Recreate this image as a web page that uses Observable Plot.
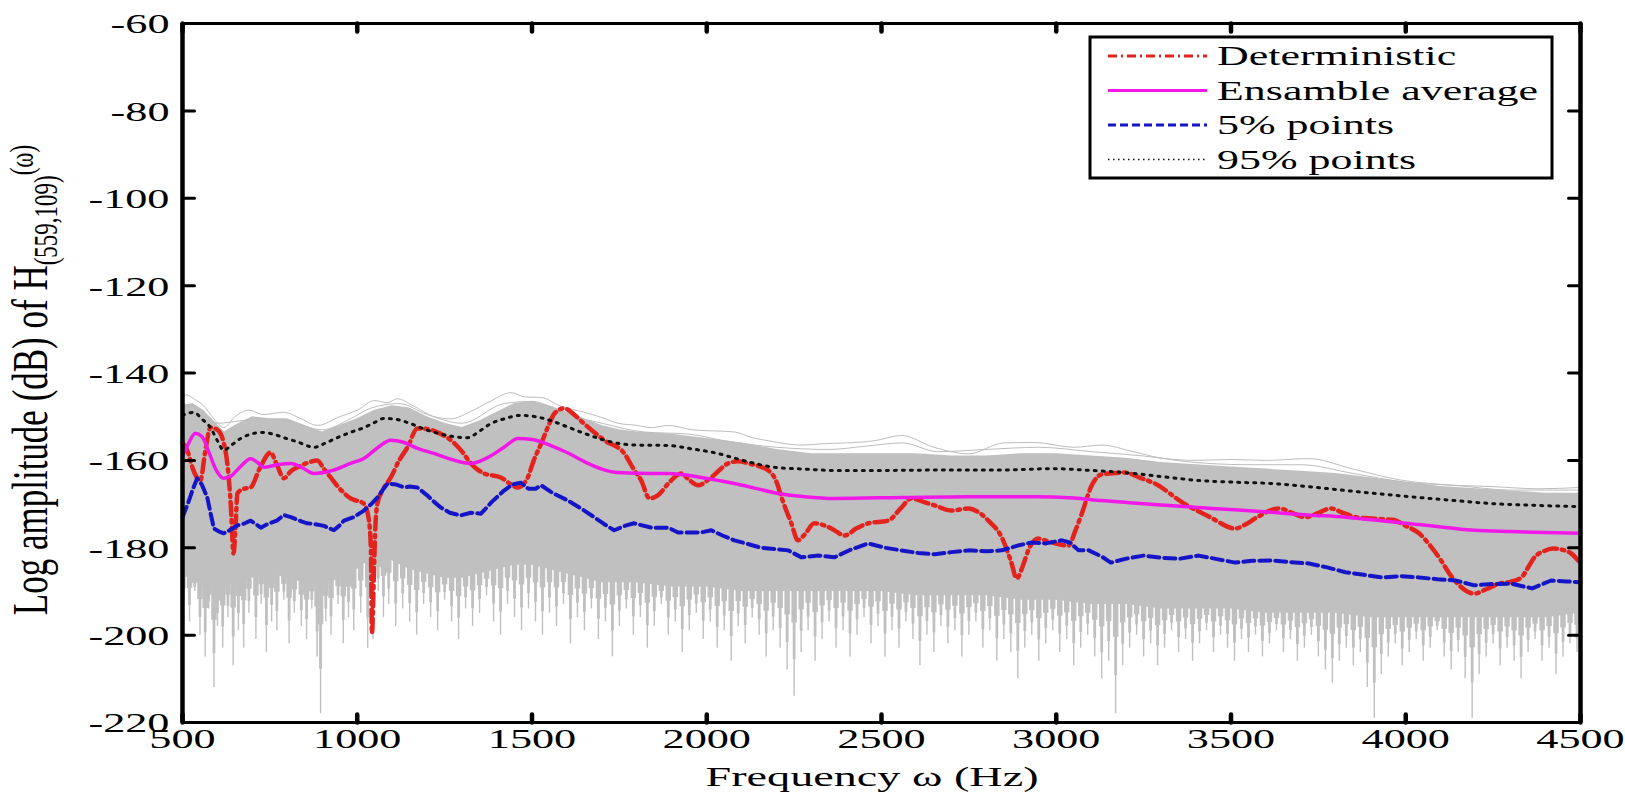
<!DOCTYPE html>
<html><head><meta charset="utf-8">
<script src="https://cdn.jsdelivr.net/npm/d3@7"></script>
<script src="https://cdn.jsdelivr.net/npm/@observablehq/plot@0.6"></script>
<style>body{margin:0;background:#fff}svg{display:block}</style>
</head><body><div id="chart"></div>
<script>
const xDomain = [500, 4500];
const yDomain = [-220, -60];
const xTicks = [500, 1000, 1500, 2000, 2500, 3000, 3500, 4000, 4500];
const yTicks = [-220, -200, -180, -160, -140, -120, -100, -80, -60];
const legendLabels = ["Deterministic", "Ensamble average", "5% points", "95% points"];

// Grey ensemble: dense envelope
const bandF = [500,530,560,590,620,650,700,750,800,850,900,950,1000,1050,1100,1150,1200,1250,1300,1350,1400,1450,1500,1550,1600,1650,1700,1750,1800,1900,2000,2100,2200,2300,2400,2500,2600,2700,2800,2900,3000,3100,3200,3300,3400,3500,3600,3700,3800,3900,4000,4100,4200,4300,4400,4500];
const bandTop = [-147.5,-147,-148.5,-151,-153.5,-152,-150,-150.5,-150.5,-152,-153.5,-152,-150.5,-148.5,-147.5,-148,-150,-151.5,-152.5,-151,-149,-147,-146.5,-147.5,-149,-150.5,-152,-153,-153.5,-154,-155,-156,-157.5,-158.5,-158.5,-158.5,-158.5,-159,-159,-158.5,-158.5,-159,-159.5,-160.5,-161,-161.5,-162,-162.5,-163,-164,-165,-166,-166.5,-167,-167.5,-167.5];
const bandBottom = [-184,-187,-189,-190,-189,-188,-187,-186,-187,-188,-189,-187,-185,-182,-183,-185,-186,-187,-187,-186,-185,-184,-184,-185,-186,-187,-188,-188,-188,-189,-189,-190,-190,-190,-190,-190,-191,-191,-191,-192,-192,-193,-193,-194,-194,-194,-195,-195,-195,-196,-196,-196,-196,-196,-196,-195];
// Individual realisations peeking above the dense band
const bandMax = [[500,-146],[510,-145],[535,-146],[560,-147.5],[590,-150.5],[618,-152.5],[650,-150],[690,-148.5],[730,-149.5],[790,-149],[840,-150.5],[886,-152],[950,-150],[1000,-148.5],[1050,-146.3],[1085,-146.8],[1115,-145.9],[1160,-147.5],[1220,-150],[1268,-150.5],[1320,-149],[1380,-146.5],[1440,-144.5],[1480,-145.5],[1526,-145.6],[1580,-147.5],[1650,-149],[1700,-150.2],[1746,-151.5],[1800,-152],[1841,-152.5],[1890,-152],[1960,-153],[2079,-153.5],[2130,-154.8],[2176,-155.5],[2271,-156.5],[2330,-156.2],[2400,-156],[2480,-155.5],[2557,-154.3],[2650,-157],[2749,-158.5],[2850,-156],[2938,-155.9],[3050,-157],[3130,-156.5],[3220,-158],[3303,-159.5],[3400,-160],[3500,-159.8],[3600,-160],[3723,-159.6],[3850,-162],[3985,-164.5],[4100,-165.5],[4248,-166],[4380,-166.5],[4500,-166.2]];
const bandMax2 = [[500,-147],[540,-148],[600,-151.5],[660,-151],[720,-150.5],[800,-151],[900,-153],[980,-150.5],[1040,-148],[1120,-147],[1200,-149.5],[1300,-151.5],[1420,-147],[1500,-146.5],[1600,-149.5],[1700,-151.5],[1820,-153.5],[1950,-154],[2050,-155.5],[2200,-157],[2350,-157.5],[2450,-156.8],[2560,-156],[2660,-158],[2800,-157.5],[2950,-157],[3100,-158],[3250,-159],[3400,-160.5],[3560,-161],[3700,-161],[3850,-163],[4000,-165],[4150,-165.8],[4300,-166.8],[4500,-166.8]];
// Deep dips of individual realisations [frequency, lowest dB]
const spikes = [[505,-192],[520,-197],[535,-190],[550,-200],[565,-205],[575,-194],[590,-212],[600,-198],[615,-203],[630,-196],[645,-207],[660,-199],[675,-203],[690,-195],
[710,-201],[725,-193],[740,-204],[755,-197],[770,-199],[790,-192],[805,-202],[820,-195],[840,-198],[855,-201],[870,-194],[885,-205],[895,-218],[910,-197],[925,-200],[945,-193],[960,-202],[975,-196],[990,-199],
[1010,-195],[1030,-203],[1045,-201],[1060,-190],[1075,-196],[1090,-193],
[1110,-198],[1130,-194],[1150,-197],[1170,-200],[1190,-193],[1210,-196],[1230,-199],[1250,-192],[1270,-197],[1290,-201],[1310,-194],[1330,-198],[1350,-195],[1370,-191],[1390,-197],[1410,-200],[1430,-193],[1450,-196],[1470,-199],[1490,-194],
[1510,-197],[1530,-200],[1550,-195],[1570,-198],[1590,-193],[1610,-202],[1630,-196],[1650,-199],[1670,-194],[1690,-201],[1710,-197],[1730,-205],[1750,-198],[1770,-194],[1790,-200],[1810,-196],[1830,-203],[1850,-198],[1870,-193],[1890,-200],[1910,-197],[1930,-204],[1950,-199],[1970,-195],[1990,-201],
[2010,-197],[2030,-203],[2050,-199],[2070,-206],[2090,-198],[2110,-202],[2130,-196],[2150,-200],[2170,-205],[2190,-199],[2210,-203],[2230,-208],[2250,-214],[2270,-204],[2290,-199],[2310,-206],[2330,-201],[2350,-197],[2370,-203],[2390,-199],[2410,-205],[2430,-200],[2450,-196],[2470,-202],[2490,-198],
[2510,-205],[2530,-199],[2550,-203],[2570,-197],[2590,-201],[2610,-207],[2630,-200],[2650,-204],[2670,-198],[2690,-202],[2710,-199],[2730,-205],[2750,-200],[2770,-197],[2790,-203],[2810,-199],[2830,-206],[2850,-201],[2870,-204],[2890,-210],[2910,-203],[2930,-200],[2950,-206],[2970,-202],[2990,-199],
[3010,-204],[3030,-201],[3050,-207],[3070,-203],[3090,-200],[3110,-205],[3130,-210],[3150,-206],[3170,-218],[3190,-207],[3210,-203],[3230,-200],[3250,-205],[3270,-202],[3290,-207],[3310,-203],[3330,-199],[3350,-204],[3370,-201],[3390,-206],[3410,-202],[3430,-199],[3450,-204],[3470,-200],[3490,-203],
[3510,-206],[3530,-201],[3550,-204],[3570,-200],[3590,-205],[3610,-202],[3630,-199],[3650,-204],[3670,-201],[3690,-206],[3710,-203],[3730,-200],[3750,-205],[3770,-208],[3790,-211],[3810,-206],[3830,-203],[3850,-207],[3870,-204],[3890,-212],[3910,-219],[3930,-209],[3950,-205],[3970,-202],[3990,-207],
[4010,-204],[4030,-201],[4050,-206],[4070,-203],[4090,-199],[4110,-205],[4130,-208],[4150,-204],[4170,-210],[4190,-219],[4210,-209],[4230,-205],[4250,-202],[4270,-207],[4290,-203],[4310,-206],[4330,-210],[4350,-204],[4370,-201],[4390,-206],[4410,-203],[4430,-209],[4450,-205],[4470,-202],[4490,-204]];

const deterministic = [[500,-156],[515,-158],[530,-162],[551,-164.6],[565,-158],[580,-152.5],[600,-153],[618,-156],[630,-162],[638,-170],[646,-181.3],[652,-175],[657,-167.6],[675,-166.5],[695,-166.2],[720,-162],[752,-158.2],[770,-161],[790,-164.1],[810,-162.5],[829,-161.6],[860,-160.5],[886,-160],[905,-162],[924,-163.9],[950,-166.5],[981,-168.7],[1019,-169.9],[1032,-173],[1039,-180],[1042,-199.6],[1048,-185],[1052,-175],[1058,-169.8],[1075,-166.5],[1096,-163.9],[1120,-160],[1144,-157],[1172,-152.7],[1200,-152.8],[1230,-153.6],[1268,-155.4],[1300,-158],[1325,-160.7],[1363,-163],[1411,-163.9],[1440,-165.5],[1459,-166.2],[1475,-165.5],[1488,-163.9],[1505,-160],[1526,-156.2],[1545,-152.5],[1564,-149.3],[1592,-148.1],[1620,-149.5],[1649,-151.6],[1707,-155.4],[1764,-158.4],[1793,-162.3],[1812,-164.5],[1836,-168.7],[1860,-168],[1890,-165.3],[1927,-163],[1950,-164.5],[1975,-165.7],[2013,-163.9],[2061,-160.7],[2090,-160.2],[2119,-160.7],[2176,-162.3],[2200,-165],[2214,-168.5],[2242,-174.4],[2261,-178.3],[2280,-177],[2308,-174.4],[2340,-175],[2365,-176],[2394,-177.2],[2430,-175.5],[2462,-174.4],[2519,-173.8],[2555,-171],[2585,-168.7],[2620,-169.5],[2652,-170.3],[2700,-171.5],[2749,-171],[2780,-172],[2806,-173.8],[2844,-177.6],[2870,-183],[2887,-187],[2905,-184],[2920,-180.6],[2949,-177.9],[2975,-178.5],[2996,-179],[3035,-179.5],[3055,-176],[3073,-172.2],[3100,-166],[3130,-163.2],[3197,-162.8],[3240,-164],[3282,-165.3],[3366,-169.9],[3440,-173],[3512,-175.6],[3545,-174.5],[3575,-173],[3638,-171],[3675,-172],[3712,-173],[3750,-172],[3786,-171],[3820,-172],[3858,-173],[3920,-173.4],[3964,-173.6],[4000,-175],[4038,-176.7],[4070,-179.5],[4101,-182.9],[4130,-186.5],[4153,-188.6],[4196,-190.5],[4230,-189.5],[4268,-188.2],[4300,-187.8],[4331,-186.8],[4350,-184.5],[4368,-182.2],[4395,-180.8],[4421,-180.2],[4450,-180.5],[4473,-181.3],[4500,-183.6]];

const ensembleAverage = [[500,-159],[515,-156.5],[537,-153.8],[555,-154.5],[575,-158],[595,-162],[618,-164.1],[640,-163.5],[665,-161.5],[695,-159.6],[715,-160.5],[732,-161.6],[770,-161],[810,-160.7],[845,-161.8],[876,-163],[920,-162.5],[981,-160.7],[1020,-159.5],[1060,-157],[1096,-155.4],[1130,-155.8],[1170,-157.2],[1219,-158.4],[1270,-159.8],[1325,-160.7],[1370,-159.5],[1420,-157],[1460,-155],[1500,-155.2],[1554,-156.6],[1600,-158.2],[1650,-160.3],[1700,-162],[1746,-162.8],[1841,-163],[1890,-163],[1984,-163.9],[2079,-165.3],[2140,-166.4],[2205,-167.6],[2280,-168.3],[2365,-168.7],[2557,-168.5],[2749,-168.3],[2938,-168.3],[3050,-168.6],[3130,-169.2],[3197,-169.6],[3300,-170.2],[3407,-170.8],[3510,-171.3],[3617,-171.9],[3720,-172.5],[3828,-173],[3930,-173.8],[4038,-174.7],[4120,-175.4],[4196,-176],[4300,-176.3],[4400,-176.5],[4500,-176.7]];

const points5 = [[500,-173],[515,-170],[530,-166.5],[542,-164.1],[555,-165.5],[571,-168.5],[580,-172],[590,-175.6],[605,-176.3],[618,-176.7],[635,-176],[657,-174.9],[675,-174.5],[695,-173.8],[710,-174.6],[724,-175.4],[745,-174.5],[770,-173.8],[790,-172.5],[810,-173],[835,-173.8],[857,-174.4],[880,-174.6],[905,-175],[933,-176],[948,-175],[962,-173.8],[990,-173],[1019,-171.5],[1040,-170],[1058,-168.5],[1075,-166.5],[1087,-165.3],[1110,-165.5],[1135,-166.2],[1150,-166],[1172,-166.2],[1200,-168],[1220,-169.5],[1239,-170.8],[1265,-172],[1296,-172.6],[1325,-172],[1354,-172.2],[1385,-169.5],[1420,-166.9],[1445,-165.5],[1468,-165.1],[1490,-166.5],[1510,-166.5],[1526,-165.7],[1560,-167.5],[1603,-169.2],[1640,-171],[1678,-173],[1705,-174.5],[1735,-176],[1765,-175],[1792,-174.4],[1841,-175.4],[1890,-175.4],[1918,-176.5],[1984,-176.5],[2013,-176],[2045,-177.2],[2079,-178.3],[2120,-179.2],[2156,-180],[2195,-180.3],[2233,-180.6],[2271,-182.2],[2320,-181.8],[2365,-182.2],[2410,-180.5],[2462,-179],[2510,-180],[2557,-180.6],[2605,-181.2],[2652,-181.5],[2700,-181],[2749,-180.6],[2800,-180.8],[2844,-180.6],[2890,-179.5],[2930,-178.8],[2970,-179],[3016,-178.3],[3039,-178.8],[3064,-180.6],[3093,-180.6],[3130,-182],[3156,-183.4],[3200,-182.5],[3250,-181.8],[3300,-182.3],[3354,-182.5],[3407,-181.8],[3460,-182.6],[3512,-183.4],[3560,-183],[3617,-182.9],[3670,-183.3],[3723,-183.6],[3775,-184.5],[3828,-185.6],[3880,-186.2],[3933,-186.8],[3985,-186.5],[4038,-186.8],[4090,-187.2],[4142,-187.5],[4196,-188.6],[4250,-188.3],[4300,-188.2],[4362,-189.3],[4416,-187.5],[4460,-187.7],[4500,-187.9]];

const points95 = [[500,-149.7],[533,-149],[555,-150.5],[580,-152.5],[600,-155.5],[618,-157.7],[640,-156.5],[666,-155],[695,-154],[724,-153.6],[760,-154],[790,-154.8],[830,-155.8],[876,-157],[910,-156],[943,-154.8],[980,-153.6],[1019,-152.5],[1050,-151.3],[1076,-150.4],[1110,-150.6],[1153,-151.6],[1190,-152.8],[1230,-153.8],[1270,-154.5],[1316,-154.8],[1350,-153.3],[1382,-151.6],[1420,-150.5],[1468,-149.7],[1510,-150],[1554,-150.9],[1600,-152.3],[1649,-153.8],[1700,-155.2],[1746,-156.1],[1800,-156.5],[1890,-156.6],[1960,-157.4],[2031,-158.4],[2080,-159.5],[2127,-160.5],[2194,-161.6],[2280,-162],[2365,-162.3],[2500,-162.3],[2700,-162.2],[2850,-162.2],[2987,-161.9],[3100,-162.3],[3197,-162.8],[3300,-163.7],[3407,-164.6],[3510,-165],[3617,-165.3],[3720,-166],[3828,-166.9],[3930,-167.7],[4038,-168.5],[4140,-169.2],[4248,-169.9],[4370,-170.3],[4500,-170.6]];

const GREY = "#c0c0c0", RED = "#e3241e", MAGENTA = "#f218e8", BLUE = "#1515c8", BLACK = "#111";
const SERIF = "'Liberation Serif','Times New Roman',serif";
const STRETCH = 1.58;

const band = bandF.map((f, i) => ({f, top: bandTop[i], bottom: bandBottom[i]}));
const bottomAt = f => {
  const i = Math.max(1, Math.min(bandF.length - 1, d3.bisectLeft(bandF, f)));
  const t = (f - bandF[i - 1]) / (bandF[i] - bandF[i - 1]);
  return bandBottom[i - 1] + t * (bandBottom[i] - bandBottom[i - 1]);
};
const partial = (d, k) => bottomAt(d[0]) + (d[1] - bottomAt(d[0])) * k;

const chart = Plot.plot({
  width: 1625, height: 794,
  marginLeft: 182, marginRight: 45, marginTop: 23, marginBottom: 72,
  style: {background: "#fff", fontFamily: SERIF},
  x: {domain: xDomain, axis: null},
  y: {domain: yDomain, axis: null},
  marks: [
    Plot.areaY(band, {x: "f", y1: "bottom", y2: "top", fill: GREY}),
    // each dip tapers: wide near the dense band, thin at its tip
    Plot.ruleX(spikes, {x: d => d[0], y1: d => bottomAt(d[0]) + 3, y2: d => partial(d, 0.3), stroke: GREY, strokeWidth: 5.5}),
    Plot.ruleX(spikes, {x: d => d[0], y1: d => bottomAt(d[0]) + 3, y2: d => partial(d, 0.65), stroke: GREY, strokeWidth: 2.8}),
    Plot.ruleX(spikes, {x: d => d[0], y1: d => bottomAt(d[0]) + 3, y2: d => d[1], stroke: GREY, strokeWidth: 1.4}),
    Plot.line(bandMax, {x: d => d[0], y: d => d[1], stroke: "#bdbdbd", strokeWidth: 1, curve: "monotone-x"}),
    Plot.line(bandMax2, {x: d => d[0], y: d => d[1], stroke: "#bdbdbd", strokeWidth: 1, curve: "monotone-x"}),
    Plot.line(deterministic, {x: d => d[0], y: d => d[1], stroke: RED, strokeWidth: 4.5, strokeDasharray: "13,5,2.5,5", curve: "monotone-x"}),
    Plot.line(ensembleAverage, {x: d => d[0], y: d => d[1], stroke: MAGENTA, strokeWidth: 3.5, curve: "monotone-x"}),
    Plot.line(points5, {x: d => d[0], y: d => d[1], stroke: BLUE, strokeWidth: 4, strokeDasharray: "11,5"}),
    Plot.line(points95, {x: d => d[0], y: d => d[1], stroke: BLACK, strokeWidth: 3, strokeDasharray: "2,6", curve: "monotone-x"}),
    Plot.frame({stroke: "black", strokeWidth: 3}),
    Plot.ruleX(xDomain, {stroke: "black", strokeWidth: 4.5}),
    Plot.vector(xTicks, {x: d => d, frameAnchor: "bottom", rotate: 0, length: 8, anchor: "start", r: 0, stroke: "black", strokeWidth: 4.5}),
    Plot.vector(xTicks, {x: d => d, frameAnchor: "top", rotate: 180, length: 8, anchor: "start", r: 0, stroke: "black", strokeWidth: 4.5}),
    Plot.vector(yTicks, {y: d => d, frameAnchor: "left", rotate: 90, length: 12, anchor: "start", r: 0, stroke: "black", strokeWidth: 3}),
    Plot.vector(yTicks, {y: d => d, frameAnchor: "right", rotate: -90, length: 12, anchor: "start", r: 0, stroke: "black", strokeWidth: 3}),
    Plot.text(xTicks, {x: d => d, frameAnchor: "bottom", dy: 25, text: d => String(d), fontSize: 28, fontFamily: SERIF, fill: "black"}),
    Plot.text(yTicks, {y: d => d, frameAnchor: "left", dx: -13, dy: 1, textAnchor: "end", text: d => String(d), fontSize: 28, fontFamily: SERIF, fill: "black"})
  ]
});

// stretch tick labels horizontally like the original
chart.querySelectorAll("text").forEach(t => {
  const tr = t.getAttribute("transform");
  if (tr) t.setAttribute("transform", tr + ` scale(${STRETCH},1)`);
  else {
    const x = +t.getAttribute("x") || 0, y = +t.getAttribute("y") || 0;
    t.setAttribute("transform", `translate(${x},${y}) scale(${STRETCH},1) translate(${-x},${-y})`);
  }
});

const svg = d3.select(chart);
// x axis title
svg.append("text")
  .attr("transform", `translate(872,786) scale(1.65,1)`)
  .attr("text-anchor", "middle").attr("font-family", SERIF).attr("font-size", 28).attr("fill", "black")
  .text("Frequency ω (Hz)");
// y axis title
const yl = svg.append("text")
  .attr("transform", `translate(47,380) rotate(-90) scale(1,1.45)`)
  .attr("text-anchor", "middle").attr("font-family", SERIF).attr("font-size", 35).attr("fill", "black");
yl.append("tspan").text("Log amplitude (dB) of H");
yl.append("tspan").attr("font-size", 23).attr("dy", 7).text("(559,109)");
yl.append("tspan").attr("font-size", 23).attr("dy", -17).text("(ω)");

// legend
const lg = svg.append("g");
lg.append("rect").attr("x", 1090).attr("y", 37).attr("width", 462).attr("height", 141)
  .attr("fill", "white").attr("stroke", "black").attr("stroke-width", 3);
const legendStyles = [
  {stroke: RED, dash: "9,4,2,4", w: 3},
  {stroke: MAGENTA, dash: null, w: 3},
  {stroke: BLUE, dash: "8,4", w: 3},
  {stroke: BLACK, dash: "1.5,3.5", w: 1.5}
];
legendLabels.forEach((label, i) => {
  const base = 65 + i * 34.5;
  const s = legendStyles[i];
  lg.append("line").attr("x1", 1108).attr("x2", 1207).attr("y1", base - 9).attr("y2", base - 9)
    .attr("stroke", s.stroke).attr("stroke-width", s.w).attr("stroke-dasharray", s.dash);
  lg.append("text").attr("transform", `translate(1217,${base}) scale(1.57,1)`)
    .attr("text-anchor", "start")
    .attr("font-family", SERIF).attr("font-size", 28).attr("fill", "black").text(label);
});

document.getElementById("chart").appendChild(chart);
</script>
</body></html>
